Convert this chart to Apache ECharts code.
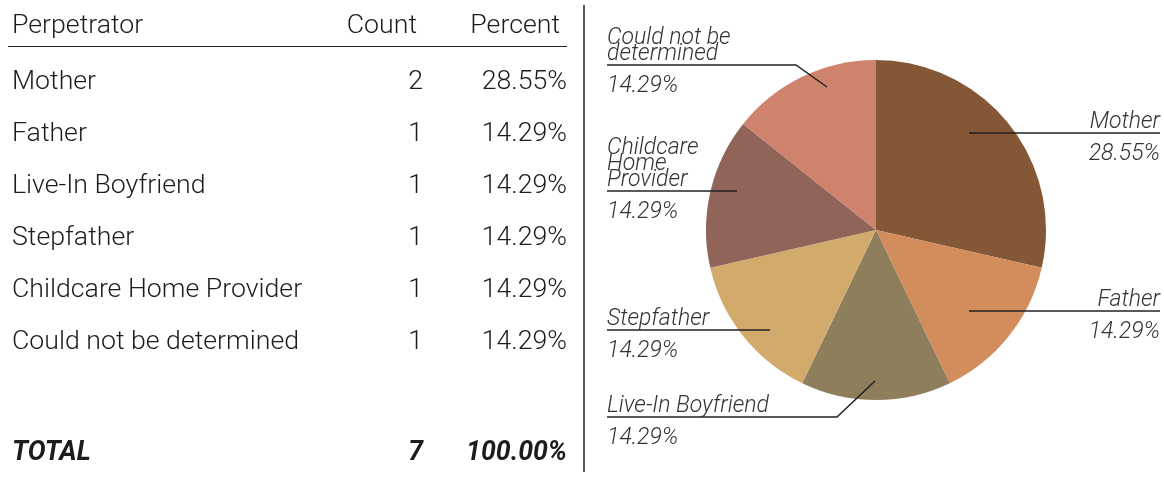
<!DOCTYPE html>
<html>
<head>
<meta charset="utf-8">
<script src="https://cdn.jsdelivr.net/npm/echarts@6/dist/echarts.min.js"></script>
<style>
    html, body {margin: 0; padding: 0; background: #fff;}
    #chart {position: absolute; left: 0; top: 0; width: 1164px; height: 483px;}
    #table {position: absolute; left: 0; top: 0; width: 590px; height: 483px;
        font-family: Roboto, 'Liberation Sans', sans-serif; font-weight: 300; font-size: 26.7px; color: #1c1c1c;}
    .c {position: absolute; line-height: 30px; white-space: nowrap;}
</style>
</head>
<body>
<div id="chart"></div>
<div id="table"></div>
<script>
// data
var perpetrators = ['Mother', 'Father', 'Live-In Boyfriend', 'Stepfather', 'Childcare Home Provider', 'Could not be determined'];
var counts = [2, 1, 1, 1, 1, 1];
var percents = ['28.55%', '14.29%', '14.29%', '14.29%', '14.29%', '14.29%'];
var totalCount = 7;
var totalPercent = '100.00%';
// names as wrapped on the pie
var pieLabelNames = ['Mother', 'Father', 'Live-In Boyfriend', 'Stepfather', 'Childcare\nHome\nProvider', 'Could not be\ndetermined'];
var colors = ['#845837', '#D38C5B', '#8F7E5C', '#D1AA6C', '#91645A', '#CF836D'];

// ---- table on the left ----
var tbl = document.getElementById('table');
function cell(txt, x, yMid, right, extra) {
    var d = document.createElement('div');
    d.className = 'c';
    d.textContent = txt;
    d.style.top = (yMid - 15) + 'px';
    if (right) d.style.right = (590 - x) + 'px'; else d.style.left = x + 'px';
    if (extra) d.style.cssText += extra;
    tbl.appendChild(d);
}
cell('Perpetrator', 12, 24);
cell('Count', 417, 24, true);
cell('Percent', 560, 24, true);
var rule = document.createElement('div');
rule.style.cssText = 'position:absolute;left:8px;top:46px;width:559px;height:0;border-top:1.5px solid #222;';
tbl.appendChild(rule);
for (let i = 0; i < perpetrators.length; i++) {
    let y = 80 + i * 52;
    cell(perpetrators[i], 12, y);
    cell(String(counts[i]), 423, y, true);
    cell(percents[i], 567, y, true);
}
var bold = 'font-weight:700;font-style:italic;';
cell('TOTAL', 12, 451, false, bold);
cell(String(totalCount), 423, 451, true, bold);
cell(totalPercent, 567, 451, true, bold);

// ---- pie ----
var cx = 876, cy = 230, R = 170;
// where each label line sits (relative to the pie center)
var placement = [
    {side: 'right', lineY: 133, anchor: [93, -97]},
    {side: 'right', lineY: 311, anchor: [93, 81]},
    {side: 'left', lineY: 417, anchor: [-1, 151], elbow: -39},
    {side: 'left', lineY: 330, anchor: [-106, 100]},
    {side: 'left', lineY: 191, anchor: [-139, -39]},
    {side: 'left', lineY: 65, anchor: [-49, -143], elbow: -80}
];
var font = "Roboto, 'Liberation Sans', sans-serif";

var chart = echarts.init(document.getElementById('chart'));
var pieData = [], labelData = [];
for (let i = 0; i < perpetrators.length; i++) {
    pieData.push({name: perpetrators[i], value: counts[i], itemStyle: {color: colors[i]}});
    labelData.push({name: perpetrators[i], value: counts[i]});
}
var base = {
    type: 'pie',
    center: [cx, cy],
    radius: R,
    startAngle: 90,
    clockwise: true,
    animation: false
};
chart.setOption({
    animation: false,
    graphic: [{
        type: 'line', shape: {x1: 584, y1: 5, x2: 584, y2: 472},
        style: {stroke: '#222', lineWidth: 1.5}
    }],
    series: [
        Object.assign({}, base, {
            z: 1,
            data: pieData,
            itemStyle: {borderWidth: 0},
            label: {show: false},
            labelLine: {show: false}
        }),
        // transparent copy on top, carrying the labels so the leader lines sit over the slices
        Object.assign({}, base, {
            z: 3,
            silent: true,
            data: labelData,
            itemStyle: {color: 'rgba(0,0,0,0)', borderWidth: 0},
            label: {
                show: true,
                position: 'outside',
                formatter: function (p) {
                    var lines = pieLabelNames[p.dataIndex].split('\n').map(function (s) {
                        return '{n|' + s + '}';
                    });
                    return lines.join('\n') + '\n{p|' + percents[p.dataIndex] + '}';
                },
                rich: {
                    n: {fontSize: 23, lineHeight: 16, fontStyle: 'italic', fontWeight: 300, color: '#333', fontFamily: font},
                    p: {fontSize: 23, lineHeight: 48, fontStyle: 'italic', fontWeight: 300, color: '#333', fontFamily: font}
                }
            },
            labelLine: {show: true, smooth: false, lineStyle: {color: '#222', width: 1.5}},
            labelLayout: function (p) {
                var i = p.dataIndex, pl = placement[i];
                var nLines = pieLabelNames[i].split('\n').length;
                var a = [cx + pl.anchor[0], cy + pl.anchor[1]];
                var xText = pl.side === 'right' ? 1160 : 607;
                var ex = pl.elbow != null ? cx + pl.elbow : a[0];
                return {
                    x: xText,
                    y: pl.lineY - 3 - nLines * 16,
                    align: pl.side === 'right' ? 'right' : 'left',
                    verticalAlign: 'top',
                    labelLinePoints: [a, [ex, pl.lineY], [xText, pl.lineY]]
                };
            }
        })
    ]
});
</script>
</body>
</html>
